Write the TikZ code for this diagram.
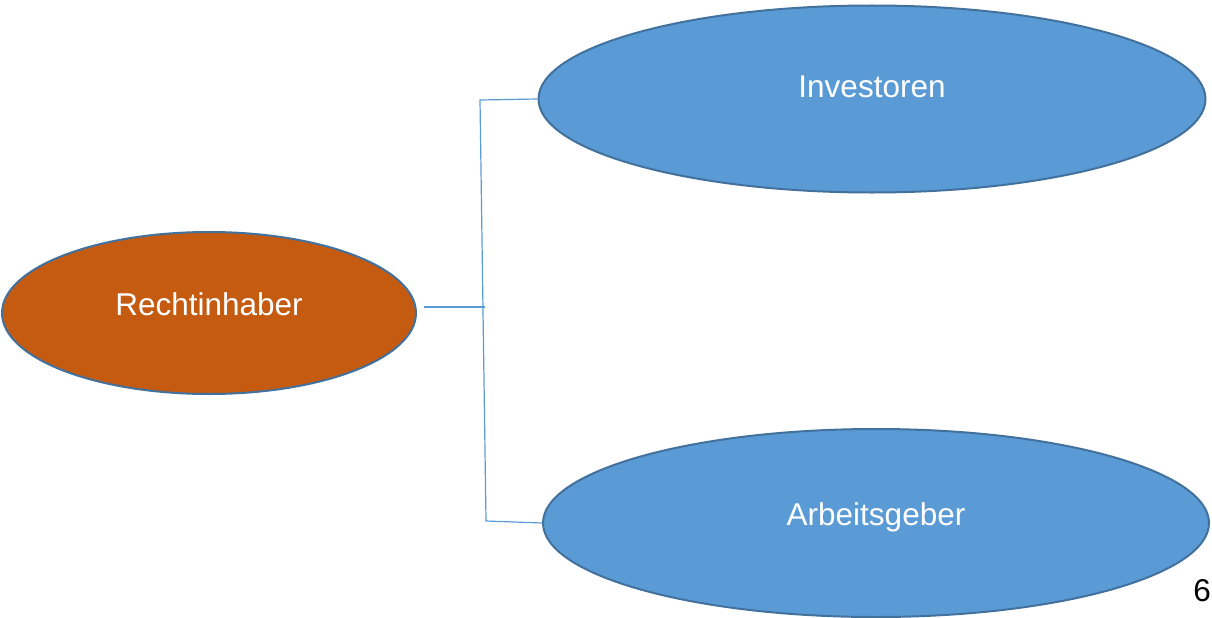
\documentclass[tikz,border=0pt]{standalone}
\usepackage{fontspec}
\setmainfont{Liberation Sans}
\usetikzlibrary{shapes.geometric}
\definecolor{bluefill}{HTML}{5B9BD5}
\definecolor{orangefill}{HTML}{C55A11}
\definecolor{edgeblue}{HTML}{41719C}
\definecolor{linkblue}{HTML}{5B9BD5}
\tikzset{
  oval/.style={ellipse, draw=edgeblue, line width=2pt, inner sep=0pt},
  lbl/.style={text=white, anchor=base, inner sep=0pt, font=\fontsize{31.5}{36}\selectfont},
  link/.style={draw=linkblue, line width=1.2pt}
}
\begin{document}
\begin{tikzpicture}[x=1pt,y=-1pt]
\useasboundingbox (0,0) rectangle (1212,618);
\node[oval, fill=orangefill, minimum width=414pt, minimum height=162pt] (R) at (209,313) {};
\node[oval, fill=bluefill, minimum width=667pt, minimum height=187pt] (I) at (872,99) {};
\node[oval, fill=bluefill, minimum width=666pt, minimum height=188pt] (A) at (876,523) {};
\node[lbl] (Rt) at (209,315) {Rechtinhaber};
\node[lbl] (It) at (872,97) {Investoren};
\node[lbl] (At) at (876,525) {Arbeitsgeber};
\node[anchor=base, inner sep=0pt, font=\fontsize{31.5}{36}\selectfont] (num) at (1202,601) {6};
\coordinate (jt) at (480,100);
\coordinate (jb) at (486,521);
\coordinate (jm) at (485,307);
\coordinate (rs) at (424,307);
\draw[link] (rs) -- (jm);
\draw[link] (I.west) -- (jt) -- (jb) -- (A.west);
\end{tikzpicture}
\end{document}
